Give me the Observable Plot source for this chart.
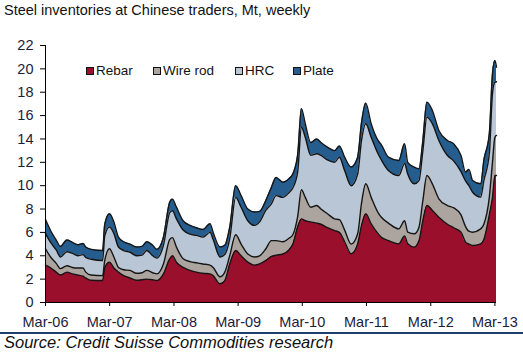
<!DOCTYPE html>
<html><head><meta charset="utf-8">
<script src="https://cdn.jsdelivr.net/npm/d3@7"></script>
<script src="https://cdn.jsdelivr.net/npm/@observablehq/plot@0.6"></script>
<style>
body{margin:0;background:#fff;font-family:"Liberation Sans",Arial,sans-serif;}
#wrap{position:relative;width:523px;height:364px;overflow:hidden;background:#fff;}
#title{position:absolute;left:4px;top:2px;font-size:14.5px;color:#111;white-space:nowrap;}
#chart{position:absolute;left:0;top:30px;}
#legend{position:absolute;left:0;top:63px;width:523px;height:16px;font-size:13.5px;color:#111;}
.item{position:absolute;top:0;white-space:nowrap;line-height:16px;}
.sw{display:inline-block;width:6px;height:6px;border:1px solid #111;margin-right:2px;vertical-align:0px;}
#rule{position:absolute;left:0;top:332px;width:523px;height:2px;background:#1f3e6e;}
#source{position:absolute;left:4px;top:333px;font-size:16.5px;font-style:italic;color:#111;white-space:nowrap;}
</style></head>
<body>
<div id="wrap">
  <div id="title">Steel inventories at Chinese traders, Mt, weekly</div>
  <div id="chart"></div>
  <div id="legend"></div>
  <div id="rule"></div>
  <div id="source">Source: Credit Suisse Commodities research</div>
</div>
<script>
const series = ["Rebar", "Wire rod", "HRC", "Plate"];
const colors = ["#9a0f2c", "#aba49f", "#b8c6d6", "#255d8e"];

const dates = ["2006-03-01","2006-04-01","2006-05-01","2006-05-25","2006-07-01","2006-08-01","2006-09-01","2006-10-01","2006-10-16","2006-11-16",
"2007-01-20","2007-02-01","2007-02-28","2007-03-25","2007-04-20","2007-05-20","2007-06-25","2007-08-01","2007-09-01","2007-09-28",
"2007-11-01","2007-11-25","2008-01-01","2008-02-06","2008-02-21","2008-03-15","2008-04-22","2008-06-01","2008-07-07","2008-08-13",
"2008-09-22","2008-10-10","2008-11-18","2008-12-15","2009-01-12","2009-02-15","2009-03-18","2009-04-25","2009-06-03","2009-07-01",
"2009-08-06","2009-09-06","2009-10-03","2009-11-10","2009-12-15","2010-01-06","2010-02-03","2010-02-24","2010-03-18","2010-04-18",
"2010-05-22","2010-06-15","2010-07-22","2010-09-01","2010-09-28","2010-10-28","2010-12-04","2011-01-10","2011-02-01","2011-02-25",
"2011-03-28","2011-05-06","2011-05-25","2011-07-04","2011-09-01","2011-10-04","2011-10-22","2011-11-28","2011-12-25","2012-01-16",
"2012-02-08","2012-03-10","2012-04-16","2012-06-04","2012-07-10","2012-08-20","2012-09-15","2012-10-04","2012-10-25","2012-12-10",
"2012-12-28","2013-01-28","2013-02-15","2013-03-01","2013-03-10"];

const rebar = [3.2,2.95,2.6,2.35,2.6,2.45,2.35,2.25,2.1,1.9,
1.88,3.0,3.45,2.95,2.6,2.3,2.1,1.9,1.95,2.0,
1.95,1.88,2.45,3.75,4.0,3.45,3.0,2.75,2.6,2.5,
2.45,2.3,1.6,1.88,3.3,4.45,4.0,3.45,3.2,3.3,
3.6,3.95,4.05,4.15,4.5,5.0,6.5,7.16,7.0,6.9,
6.8,6.7,6.4,6.16,6.0,5.2,4.17,5.02,6.6,7.6,
6.73,5.9,5.59,5.3,5.02,5.7,5.02,4.74,5.3,7.02,
8.3,7.88,7.3,6.7,6.4,6.02,5.17,5.0,4.88,5.02,
5.4,7.5,9.02,10.87,10.87];

const wireRod = [1.4,0.9,0.75,0.55,0.55,0.55,0.6,0.7,0.5,0.45,
0.42,0.6,1.15,0.95,0.4,0.5,0.65,0.6,0.6,0.75,
0.6,0.57,0.85,1.65,1.55,1.29,0.75,0.75,0.8,0.8,
0.75,0.7,0.6,0.72,0.7,1.35,1.0,0.7,0.7,0.7,
1.0,1.35,1.25,1.05,1.0,0.8,0.9,2.49,2.0,1.26,
1.5,1.3,1.2,1.0,1.1,1.0,0.83,0.86,1.9,2.56,
2.27,1.8,1.71,1.5,1.28,1.3,1.0,1.14,1.15,1.71,
2.57,2.28,1.58,1.6,1.7,1.48,1.33,1.1,1.14,1.28,
1.3,1.5,2.98,3.28,3.43];

const hrc = [1.3,1.25,1.15,1.0,1.2,1.2,1.05,1.15,1.25,1.35,
1.3,2.1,1.85,2.0,1.75,1.65,1.55,1.5,1.5,1.7,
1.45,1.35,1.6,2.3,2.3,2.42,2.45,2.35,2.35,2.3,
2.8,2.4,1.7,1.5,1.45,3.2,3.15,2.85,2.7,2.9,
3.3,3.15,3.85,3.8,3.9,4.0,3.8,5.35,5.15,4.44,
4.43,4.6,4.6,4.84,5.34,5.1,5.0,5.12,5.37,5.14,
5.15,5.03,4.9,4.5,4.57,4.9,4.98,4.28,3.99,4.27,
5.0,5.14,4.99,4.28,4.0,3.7,3.9,3.9,3.42,2.72,
3.74,3.73,5.87,4.71,4.6];

const plate = [1.2,1.0,0.85,0.9,1.0,0.95,0.95,0.95,0.9,0.85,
0.85,1.0,1.15,1.0,0.85,0.75,0.7,0.75,0.75,0.75,
0.9,0.75,0.7,0.9,1.0,1.0,0.8,0.75,0.65,0.65,
0.75,0.6,0.85,0.8,1.0,1.0,1.0,1.0,1.15,0.9,
0.85,1.4,1.55,1.3,1.2,1.2,1.5,1.6,1.15,1.1,
1.27,1.1,1.1,1.0,0.96,1.14,1.6,1.44,1.53,1.77,
1.15,1.14,1.3,1.14,1.29,1.7,1.0,1.42,1.0,0.87,
1.28,1.14,0.86,1.29,1.48,1.38,0.76,1.4,1.0,1.14,
1.72,1.71,1.71,1.86,1.25];

const yTicks = [0,2,4,6,8,10,12,14,16,18,20,22];
const xTickDates = ["2006-03-01","2007-03-01","2008-03-01","2009-03-01","2010-03-01","2011-03-01","2012-03-01","2013-03-01"];
const xTickLabels = ["Mar-06","Mar-07","Mar-08","Mar-09","Mar-10","Mar-11","Mar-12","Mar-13"];

const layers = [rebar, wireRod, hrc, plate];
const rows = [];
dates.forEach((d, i) => {
  layers.forEach((arr, k) => rows.push({date: new Date(d), series: series[k], value: arr[i]}));
});
const xTicks = xTickDates.map(d => new Date(d));
const labelOf = new Map(xTicks.map((d, i) => [+d, xTickLabels[i]]));

const chart = Plot.plot({
  width: 523,
  height: 300,
  marginLeft: 45,
  marginRight: 27,
  marginTop: 15,
  marginBottom: 28,
  style: {fontFamily: "'Liberation Sans', Arial, sans-serif", fontSize: "14.5px", background: "transparent", overflow: "visible"},
  x: {type: "utc", domain: [new Date(dates[0]), new Date(dates[dates.length - 1])]},
  y: {domain: [0, 22]},
  color: {domain: series, range: colors},
  marks: [
    Plot.areaY(rows, {x: "date", y: "value", z: "series", fill: "series", curve: "monotone-x"}),
    Plot.lineY(rows, Plot.stackY2({x: "date", y: "value", z: "series", stroke: "#151515", strokeWidth: 1.4, curve: "monotone-x"})),
    Plot.ruleY([0], {stroke: "#000", strokeWidth: 1}),
    Plot.ruleX([new Date(dates[0])], {stroke: "#000", strokeWidth: 1}),
    Plot.axisY({ticks: yTicks, tickSize: 5, tickPadding: 7, label: null, color: "#1b1d3a", stroke: "#000"}),
    Plot.axisX({ticks: xTicks, tickFormat: d => labelOf.get(+d), tickSize: 4, tickPadding: 10, label: null, color: "#1b1d3a", stroke: "#000"})
  ]
});
document.getElementById("chart").appendChild(chart);

const legendX = [86, 153, 235, 293];
const legend = document.getElementById("legend");
series.forEach((s, i) => {
  const it = document.createElement("div");
  it.className = "item";
  it.style.left = legendX[i] + "px";
  const sw = document.createElement("span");
  sw.className = "sw";
  sw.style.background = colors[i];
  it.appendChild(sw);
  it.appendChild(document.createTextNode(s));
  legend.appendChild(it);
});
</script>
</body></html>
